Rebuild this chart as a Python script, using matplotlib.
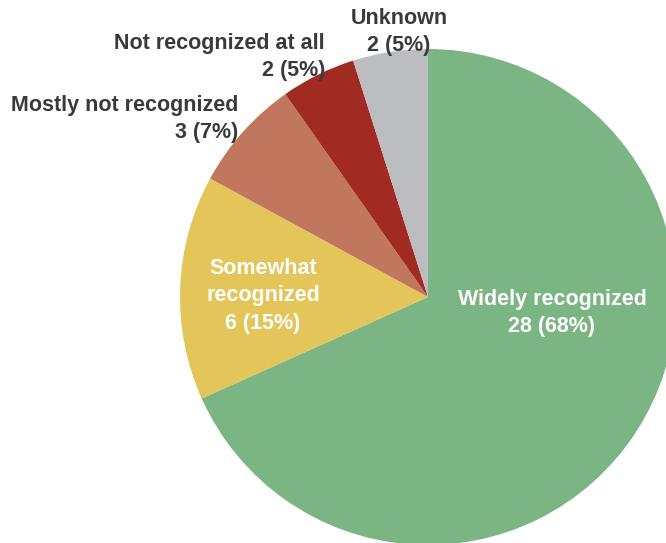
import matplotlib
matplotlib.use("Agg")
import matplotlib.pyplot as plt

plt.rcParams['font.family'] = ['Liberation Sans', 'DejaVu Sans']

# recognition categories, counted clockwise from 12 o'clock
labels = ["Widely recognized", "Somewhat\nrecognized", "Mostly not recognized",
          "Not recognized at all", "Unknown"]
counts = [28, 6, 3, 2, 2]
colors = ["#7BB583", "#E4C55A", "#C0775D", "#A12B22", "#BCBDC1"]

total = sum(counts)
texts = [f"{lab}\n{n} ({round(100 * n / total)}%)" for lab, n in zip(labels, counts)]

W, H = 666, 543
fig = plt.figure(figsize=(W / 100, H / 100), dpi=100)
ax = fig.add_axes([0, 0, 1, 1])

cx, cy, r = 428, H - 297, 248
ax.pie(counts, colors=colors, startangle=90, counterclock=False,
       center=(cx, cy), radius=r, frame=True,
       wedgeprops=dict(linewidth=0))
ax.set_xlim(0, W)
ax.set_ylim(0, H)
ax.set_aspect('equal')
ax.axis('off')

# label placement in pixel coords (x, y from top), alignment, colour
dark = "#3A3A3A"
spots = [
    (552, 313, 'center', 'white'),
    (263, 296, 'center', 'white'),
    (238, 119, 'right', dark),
    (325, 57, 'right', dark),
    (399, 32, 'center', dark),
]
for txt, (x, y, ha, c) in zip(texts, spots):
    ax.text(x, H - y, txt, ha=ha, va='center', color=c, fontsize=15.5,
            fontweight='bold', linespacing=1.4, multialignment=ha)

fig.savefig("out.png", dpi=100)
